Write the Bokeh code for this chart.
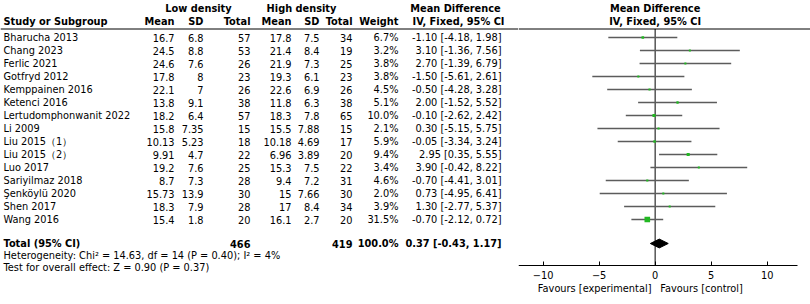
from bokeh.plotting import figure
from bokeh.models import Range1d, LinearAxis, FixedTicker
from bokeh.layouts import row
from bokeh.embed import file_html
from bokeh.resources import INLINE
from bokeh.core.properties import value

# ---------------- data ----------------
studies = ["Bharucha 2013", "Chang 2023", "Ferlic 2021", "Gotfryd 2012", "Kemppainen 2016",
           "Ketenci 2016", "Lertudomphonwanit 2022", "Li 2009", "Liu 2015（1）", "Liu 2015（2）",
           "Luo 2017", "Sariyilmaz 2018", "Şenköylü 2020", "Shen 2017", "Wang 2016"]
low_mean = [16.7, 24.5, 24.6, 17.8, 22.1, 13.8, 18.2, 15.8, 10.13, 9.91, 19.2, 8.7, 15.73, 18.3, 15.4]
low_sd = [6.8, 8.8, 7.6, 8, 7, 9.1, 6.4, 7.35, 5.23, 4.7, 7.6, 7.3, 13.9, 7.9, 1.8]
low_n = [57, 53, 26, 23, 26, 38, 57, 15, 18, 22, 25, 28, 30, 28, 20]
high_mean = [17.8, 21.4, 21.9, 19.3, 22.6, 11.8, 18.3, 15.5, 10.18, 6.96, 15.3, 9.4, 15, 17, 16.1]
high_sd = [7.5, 8.4, 7.3, 6.1, 6.9, 6.3, 7.8, 7.88, 4.69, 3.89, 7.5, 7.2, 7.66, 8.4, 2.7]
high_n = [34, 19, 25, 23, 26, 38, 65, 15, 17, 20, 22, 31, 30, 34, 20]
weight = [6.7, 3.2, 3.8, 3.8, 4.5, 5.1, 10.0, 2.1, 5.9, 9.4, 3.4, 4.6, 2.0, 3.9, 31.5]
md = [-1.10, 3.10, 2.70, -1.50, -0.50, 2.00, -0.10, 0.30, -0.05, 2.95, 3.90, -0.70, 0.73, 1.30, -0.70]
ci_lo = [-4.18, -1.36, -1.39, -5.61, -4.28, -1.52, -2.62, -5.15, -3.34, 0.35, -0.42, -4.41, -4.95, -2.77, -2.12]
ci_hi = [1.98, 7.56, 6.79, 2.61, 3.28, 5.52, 2.42, 5.75, 3.24, 5.55, 8.22, 3.01, 6.41, 5.37, 0.72]
total_low, total_high, total_weight = 466, 419, 100.0
pooled_md, pooled_lo, pooled_hi = 0.37, -0.43, 1.17
heterogeneity = "Heterogeneity: Chi² = 14.63, df = 14 (P = 0.40); I² = 4%"
overall = "Test for overall effect: Z = 0.90 (P = 0.37)"
axis_ticks = [-10, -5, 0, 5, 10]
favours = ["Favours [experimental]", "Favours [control]"]
favours_pos = [-5.4, 4.15]

# ---------------- layout constants ----------------
FONT = value("DejaVu Sans")
FS = "9.8px"
W, H = 810, 304
AX_PX = 265              # y of the forest axis line
ROW_PX = 13.0
ROW0_PX = 37.0           # y of first study row
def rowy(py):
    return (py - ROW0_PX) / ROW_PX

HDR1 = rowy(7.5)
HDR2 = rowy(20.5)
HLINE = rowy(28.5)
TOTAL_ROW = rowy(243)
HET_ROW = rowy(255)
TEST_ROW = rowy(267)
AXIS_ROW = rowy(AX_PX)

rows = list(range(len(studies)))

def fmt(v):
    return f"{v:g}"

def fmt_md(m, lo, hi):
    return f"{m:.2f} [{lo:.2f}, {hi:.2f}]"

# ---------------- table figure ----------------
tw = 518
t = figure(width=tw, height=H, x_range=Range1d(0, tw),
           y_range=Range1d(rowy(H), rowy(0)), output_backend="svg",
           toolbar_location=None, min_border=0,
           x_axis_location=None, y_axis_location=None)
t.grid.visible = False
t.outline_line_color = None
t.background_fill_color = "white"
t.border_fill_color = "white"

def col(x, ys, texts, align="right", bold=False):
    t.text(x=[x] * len(ys), y=ys, text=texts, text_align=align, text_baseline="middle",
           text_font=FONT, text_font_size=FS,
           text_font_style="bold" if bold else "normal", text_color="black")

STUDY_X, LM_X, LSD_X, LT_X = 3, 174, 203, 250
HM_X, HSD_X, HT_X, W_X, MD_X = 291, 319, 352, 398, 501

# headers
col(198, [HDR1], ["Low density"], "center", True)
col(301, [HDR1], ["High density"], "center", True)
col(455, [HDR1], ["Mean Difference"], "center", True)
col(STUDY_X, [HDR2], ["Study or Subgroup"], "left", True)
col(LM_X, [HDR2], ["Mean"], "right", True)
col(LSD_X, [HDR2], ["SD"], "right", True)
col(LT_X, [HDR2], ["Total"], "right", True)
col(HM_X, [HDR2], ["Mean"], "right", True)
col(HSD_X, [HDR2], ["SD"], "right", True)
col(HT_X, [HDR2], ["Total"], "right", True)
col(W_X, [HDR2], ["Weight"], "right", True)
col(458, [HDR2], ["IV, Fixed, 95% CI"], "center", True)
t.segment(x0=[0], y0=[HLINE], x1=[tw], y1=[HLINE], line_color="black", line_width=1)

# body
col(STUDY_X, rows, studies, "left")
col(LM_X, rows, [fmt(v) for v in low_mean])
col(LSD_X, rows, [fmt(v) for v in low_sd])
col(LT_X, rows, [str(v) for v in low_n])
col(HM_X, rows, [fmt(v) for v in high_mean])
col(HSD_X, rows, [fmt(v) for v in high_sd])
col(HT_X, rows, [str(v) for v in high_n])
col(W_X, rows, [f"{w:.1f}%" for w in weight])
col(MD_X, rows, [fmt_md(m, a, b) for m, a, b in zip(md, ci_lo, ci_hi)])

# totals
col(STUDY_X, [TOTAL_ROW], ["Total (95% CI)"], "left", True)
col(LT_X, [TOTAL_ROW], [str(total_low)], "right", True)
col(HT_X, [TOTAL_ROW], [str(total_high)], "right", True)
col(W_X, [TOTAL_ROW], [f"{total_weight:.1f}%"], "right", True)
col(MD_X, [TOTAL_ROW], [fmt_md(pooled_md, pooled_lo, pooled_hi)], "right", True)
col(STUDY_X, [HET_ROW], [heterogeneity], "left")
col(STUDY_X, [TEST_ROW], [overall], "left")

# ---------------- forest figure ----------------
fw = W - tw              # 292
PX_PER_UNIT = 11.2
X_LEFT = -12.2
x_right = X_LEFT + fw / PX_PER_UNIT
f = figure(width=fw, height=H, x_range=Range1d(X_LEFT, x_right),
           y_range=Range1d(rowy(H), rowy(0)), output_backend="svg",
           toolbar_location=None, min_border=0,
           x_axis_location=None, y_axis_location=None)
f.grid.visible = False
f.outline_line_color = None
f.background_fill_color = "white"
f.border_fill_color = "white"

ax = LinearAxis(ticker=FixedTicker(ticks=axis_ticks), bounds=(X_LEFT, 12.75),
                fixed_location=AXIS_ROW)
ax.axis_line_color = "black"
ax.major_tick_line_color = "black"
ax.major_tick_in = 4
ax.major_tick_out = 0
ax.minor_tick_line_color = None
ax.major_label_standoff = 5
ax.major_label_text_font = "DejaVu Sans"
ax.major_label_text_font_size = FS
ax.major_label_text_color = "black"
f.add_layout(ax, "below")

ax2 = LinearAxis(ticker=FixedTicker(ticks=favours_pos), fixed_location=AXIS_ROW,
                 major_label_overrides={favours_pos[0]: favours[0], favours_pos[1]: favours[1]})
ax2.axis_line_color = None
ax2.major_tick_line_color = None
ax2.minor_tick_line_color = None
ax2.major_tick_in = 0
ax2.major_tick_out = 0
ax2.major_label_standoff = 17
ax2.major_label_text_font = "DejaVu Sans"
ax2.major_label_text_font_size = FS
ax2.major_label_text_color = "black"
f.add_layout(ax2, "below")

f.text(x=[0, 0], y=[HDR1, HDR2], text=["Mean Difference", "IV, Fixed, 95% CI"],
       text_align="center", text_baseline="middle", text_font=FONT, text_font_size=FS,
       text_font_style="bold", text_color="black")
f.segment(x0=[X_LEFT], y0=[HLINE], x1=[x_right], y1=[HLINE], line_color="black", line_width=1)
f.segment(x0=[0], y0=[HLINE], x1=[0], y1=[AXIS_ROW], line_color="black", line_width=1)

f.segment(x0=ci_lo, y0=rows, x1=ci_hi, y1=rows, line_color="#5c5c5c", line_width=1.5)
f.scatter(x=md, y=rows, marker="square", size=[max(2.0, w ** 0.5) for w in weight],
          fill_color="#22b822", line_color=None)

dh = 0.34
f.patch(x=[pooled_lo, pooled_md, pooled_hi, pooled_md],
        y=[TOTAL_ROW, TOTAL_ROW - dh, TOTAL_ROW, TOTAL_ROW + dh],
        fill_color="black", line_color="black")

layout = row(t, f, spacing=0)
open("out.html", "w").write(file_html(layout, INLINE))
